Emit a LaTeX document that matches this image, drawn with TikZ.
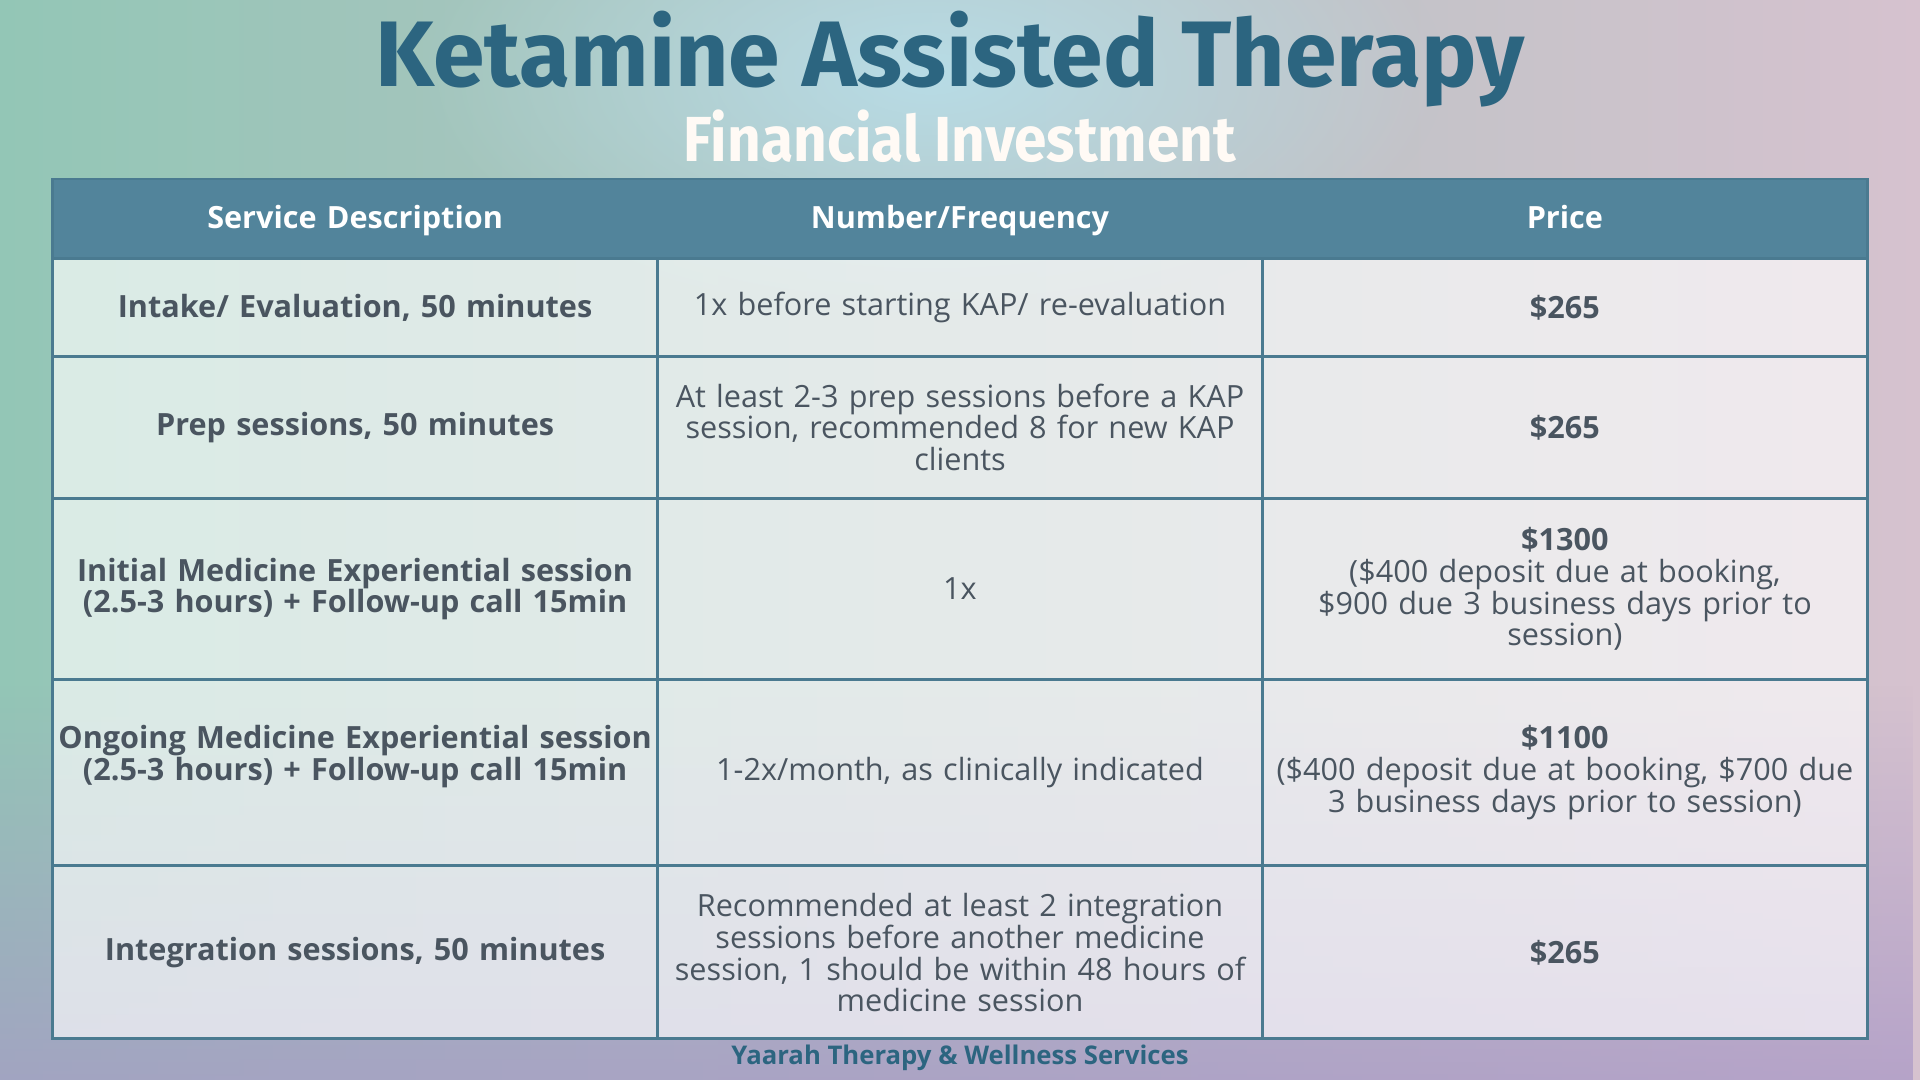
\documentclass[tikz,border=0pt]{standalone}
\usepackage{fontspec}
\setmainfont{Open Sans}
\newfontfamily\titlefont{Fira Sans}
\usetikzlibrary{fadings}
\tikzfading[name=softout, inner color=transparent!0, outer color=transparent!100]
\definecolor{teal1}{HTML}{2C6580}
\definecolor{hdr}{HTML}{52849B}
\definecolor{bord}{HTML}{4A7A90}
\definecolor{txt}{HTML}{4A5560}
\definecolor{bgl}{HTML}{93C6B6}
\definecolor{bgr}{HTML}{D6C2CF}
\definecolor{bgb}{HTML}{A896C6}
\definecolor{bgt}{HTML}{B8DCE6}
\begin{document}
\begin{tikzpicture}[x=1pt,y=-1pt,
  cell/.style={align=center,text width=490pt,font=\fontsize{25}{26}\selectfont,text=txt,inner sep=0pt},
  celb/.style={cell,font=\fontsize{25}{26}\selectfont\bfseries},
  head/.style={celb,text=white,anchor=base}]
\useasboundingbox (0,0) rectangle (1568,882);
\shade[left color=bgl, right color=bgr] (0,0) rectangle (1568,882);
\fill[bgb,opacity=0.7,path fading=north] (0,560) rectangle (1568,882);
\fill[bgt,path fading=softout] (760,60) ellipse [x radius=420pt, y radius=200pt];
% table
\fill[white,opacity=0.65] (43,211) rectangle (1525,848);
\fill[hdr] (43,146) rectangle (1525,211);
\draw[bord,line width=2pt] (43,146) rectangle (1525,848);
\foreach \yy in {211,291,407,555,707} \draw[bord,line width=2pt] (43,\yy) -- (1525,\yy);
\foreach \xx in {537,1031} \draw[bord,line width=2pt] (\xx,211) -- (\xx,848);
\node[font=\titlefont\fontsize{76}{76}\selectfont\bfseries,text=teal1] (t) at (776,48) {Ketamine Assisted Therapy};
\node[font=\titlefont\fontsize{52}{52}\selectfont\bfseries,text=white!96!orange] (s) at (784,111) {\addfontfeature{FakeStretch=0.92}Financial Investment};
\node[head] (h1) at (290,187) {Service Description};
\node[head] (h2) at (784,187) {Number/Frequency};
\node[head] (h3) at (1278,187) {Price};
\node[celb] (a1) at (290,251) {Intake/ Evaluation, 50 minutes};
\node[cell] (a2) at (784,251) {1x before starting KAP/ re-evaluation};
\node[celb] (a3) at (1278,251) {\$265};
\node[celb] (b1) at (290,349) {Prep sessions, 50 minutes};
\node[cell] (b2) at (784,349) {At least 2-3 prep sessions before a KAP\\ session, recommended 8 for new KAP\\ clients};
\node[celb] (b3) at (1278,349) {\$265};
\node[celb] (c1) at (290,481) {Initial Medicine Experiential session\\ (2.5-3 hours) + Follow-up call 15min};
\node[cell] (c2) at (784,481) {1x};
\node[cell] (c3) at (1278,481) {\textbf{\$1300}\\(\$400 deposit due at booking,\\ \$900 due 3 business days prior to\\ session)};
\node[celb] (d1) at (290,618) {Ongoing Medicine Experiential session\\ (2.5-3 hours) + Follow-up call 15min};
\node[cell] (d2) at (784,631) {1-2x/month, as clinically indicated};
\node[cell] (d3) at (1278,631) {\textbf{\$1100}\\(\$400 deposit due at booking, \$700 due\\ 3 business days prior to session)};
\node[celb] (e1) at (290,778) {Integration sessions, 50 minutes};
\node[cell] (e2) at (784,778) {Recommended at least 2 integration\\ sessions before another medicine\\ session, 1 should be within 48 hours of\\ medicine session};
\node[celb] (e3) at (1278,778) {\$265};
\node[font=\fontsize{21}{21}\selectfont\bfseries,text=teal1] (f) at (784,864) {Yaarah Therapy \& Wellness Services};
\end{tikzpicture}
\end{document}
